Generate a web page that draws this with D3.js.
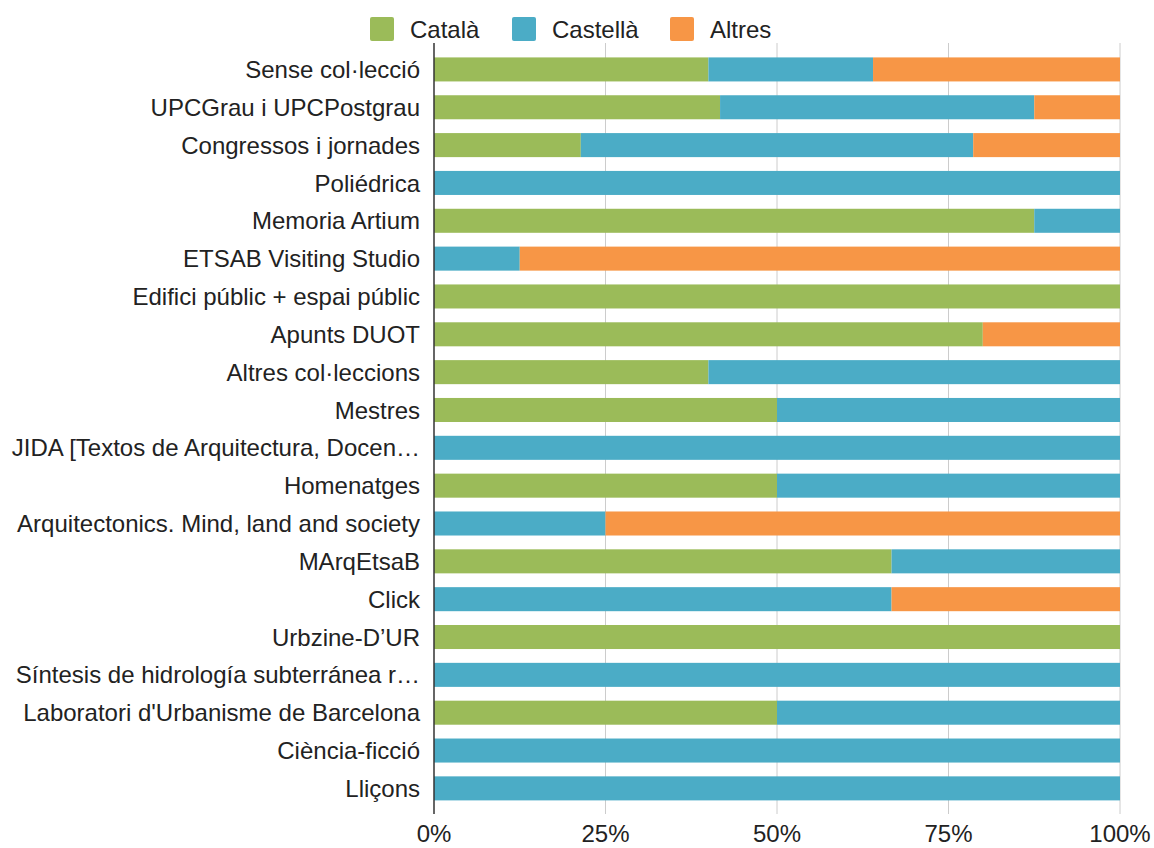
<!DOCTYPE html>
<html>
<head>
<meta charset="utf-8">
<script src="https://cdn.jsdelivr.net/npm/d3@7"></script>
<style>
  body { margin: 0; background: #fff; }
  text { font-family: "Liberation Sans", Arial, sans-serif; }
</style>
</head>
<body>
<div id="chart"></div>
<script>
// collections, top to bottom
const categories = [
  'Sense col·lecció', 'UPCGrau i UPCPostgrau', 'Congressos i jornades', 'Poliédrica',
  'Memoria Artium', 'ETSAB Visiting Studio', 'Edifici públic + espai públic', 'Apunts DUOT',
  'Altres col·leccions', 'Mestres', 'JIDA [Textos de Arquitectura, Docen…', 'Homenatges',
  'Arquitectonics. Mind, land and society', 'MArqEtsaB', 'Click', 'Urbzine-D’UR',
  'Síntesis de hidrología subterránea r…', "Laboratori d'Urbanisme de Barcelona",
  'Ciència-ficció', 'Lliçons'
];
const seriesNames = ['Català', 'Castellà', 'Altres'];
const catala   = [40, 41.7, 21.4, 0, 87.5, 0,    100, 80, 40, 50, 0,   50, 0,  66.7, 0,    100, 0,   50, 0,   0];
const castella = [24, 45.8, 57.2, 100, 12.5, 12.5, 0, 0,  60, 50, 100, 50, 25, 33.3, 66.7, 0,   100, 50, 100, 100];
const altres   = [36, 12.5, 21.4, 0, 0,    87.5, 0,   20, 0,  0,  0,   0,  75, 0,    33.3, 0,   0,   0,  0,   0];
const xTicks = [0, 0.25, 0.5, 0.75, 1];
const colors = ['#9bbb59', '#4bacc6', '#f79646'];

const W = 1154, H = 848;
const FS = 24;
const svg = d3.select('#chart').append('svg').attr('width', W).attr('height', H);

const x = d3.scaleLinear().domain([0, 1]).range([434, 1120]);
const y = d3.scaleBand().domain(categories).range([50.6, 807.2]).paddingInner(0.365).paddingOuter(0.18);

const rows = categories.map((c, i) => ({ cat: c, 'Català': catala[i], 'Castellà': castella[i], 'Altres': altres[i] }));
rows.forEach(r => {
  const t = r['Català'] + r['Castellà'] + r['Altres'];
  seriesNames.forEach(s => r[s] = r[s] / t);
});
const stacked = d3.stack().keys(seriesNames)(rows);

// gridlines
svg.append('g').selectAll('line').data(xTicks.slice(1)).join('line')
  .attr('x1', d => x(d)).attr('x2', d => x(d))
  .attr('y1', 43).attr('y2', 814)
  .attr('stroke', '#cccccc').attr('stroke-width', 1);

// bars
svg.append('g').selectAll('g').data(stacked).join('g')
  .attr('fill', (d, i) => colors[i])
  .selectAll('rect').data(d => d.filter(p => p[1] - p[0] > 0)).join('rect')
  .attr('x', d => x(d[0]))
  .attr('y', d => y(d.data.cat))
  .attr('width', d => x(d[1]) - x(d[0]))
  .attr('height', y.bandwidth());

// y labels
svg.append('g').selectAll('text').data(categories).join('text')
  .attr('x', 420).attr('y', d => y(d) + y.bandwidth() / 2)
  .attr('dy', '0.36em').attr('text-anchor', 'end')
  .attr('font-size', FS).attr('fill', '#222')
  .text(d => d);

// axis line
svg.append('line').attr('x1', 434).attr('x2', 434).attr('y1', 43).attr('y2', 814)
  .attr('stroke', '#333').attr('stroke-width', 1.5);

// x tick labels
svg.append('g').selectAll('text').data(xTicks).join('text')
  .attr('x', d => x(d)).attr('y', 842)
  .attr('text-anchor', 'middle').attr('font-size', FS).attr('fill', '#222')
  .text(d => d3.format('.0%')(d));

// legend
const legX = [370, 512, 670];
const leg = svg.append('g').selectAll('g').data(seriesNames).join('g')
  .attr('transform', (d, i) => `translate(${legX[i]},17)`);
leg.append('rect').attr('width', 24).attr('height', 24).attr('rx', 2)
  .attr('fill', (d, i) => colors[i]);
leg.append('text').attr('x', 40).attr('y', 12).attr('dy', '0.36em')
  .attr('font-size', FS).attr('fill', '#222').text(d => d);
</script>
</body>
</html>
